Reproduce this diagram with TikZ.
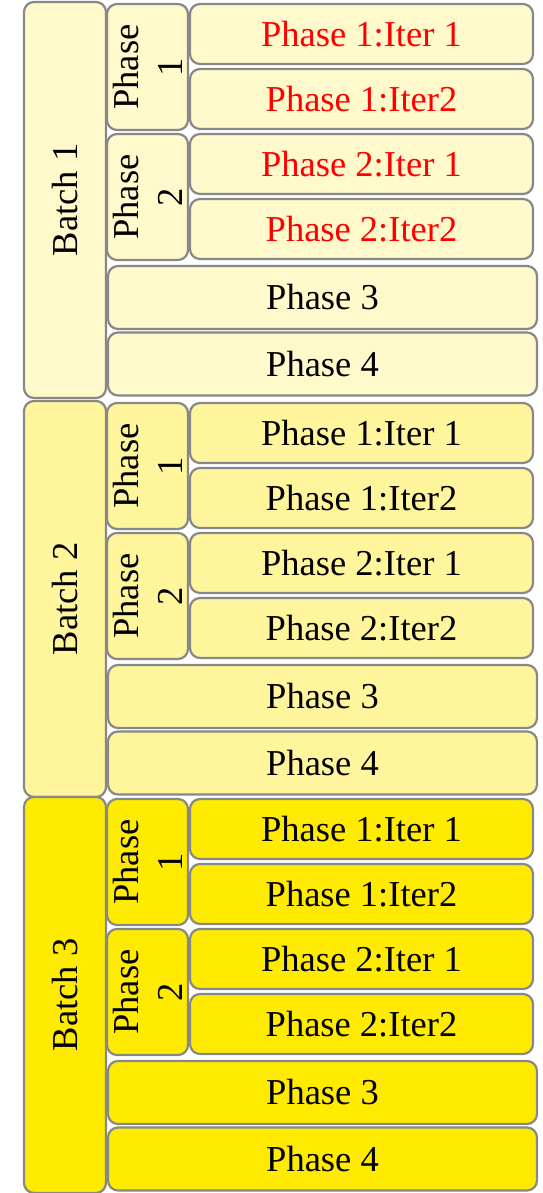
\documentclass[tikz,border=0pt]{standalone}
\usepackage{fontspec}
\setmainfont{Liberation Serif}
\definecolor{lineGray}{HTML}{888888}
\definecolor{batchA}{HTML}{FFF9CC}
\definecolor{batchB}{HTML}{FFF59C}
\definecolor{batchC}{HTML}{FFEB00}

\begin{document}
\begin{tikzpicture}[x=1pt,y=-1pt,
  box/.style = {draw=lineGray, line width=2.2pt, rounded corners=10pt, inner sep=0pt, align=center, font=\fontsize{36.5}{44}\selectfont},
  batch/.style = {box, rotate=90, minimum width=396pt, minimum height=82pt},
  phase/.style = {box, rotate=90, minimum width=126pt, minimum height=81pt},
  iter/.style = {box, minimum width=343pt, minimum height=60pt},
  wide/.style = {box, minimum width=429pt, minimum height=63pt}]
\useasboundingbox (0,0) rectangle (543,1193);
% batch 1
\node[batch, fill=batchA] (b1) at (65,200) {Batch 1};
\node[phase, fill=batchA] (b1p1) at (147.5,67) {Phase\\1};
\node[iter, fill=batchA, text=red] (b1i11) at (361.5,34) {Phase 1:Iter 1};
\node[iter, fill=batchA, text=red] (b1i12) at (361.5,99) {Phase 1:Iter2};
\node[phase, fill=batchA] (b1p2) at (147.5,197) {Phase\\2};
\node[iter, fill=batchA, text=red] (b1i21) at (361.5,164) {Phase 2:Iter 1};
\node[iter, fill=batchA, text=red] (b1i22) at (361.5,229) {Phase 2:Iter2};
\node[wide, fill=batchA] (b1p3) at (322.5,297.5) {Phase 3};
\node[wide, fill=batchA] (b1p4) at (322.5,364) {Phase 4};
% batch 2
\node[batch, fill=batchB] (b2) at (65,599) {Batch 2};
\node[phase, fill=batchB] (b2p1) at (147.5,466) {Phase\\1};
\node[iter, fill=batchB] (b2i11) at (361.5,433) {Phase 1:Iter 1};
\node[iter, fill=batchB] (b2i12) at (361.5,498) {Phase 1:Iter2};
\node[phase, fill=batchB] (b2p2) at (147.5,596) {Phase\\2};
\node[iter, fill=batchB] (b2i21) at (361.5,563) {Phase 2:Iter 1};
\node[iter, fill=batchB] (b2i22) at (361.5,628) {Phase 2:Iter2};
\node[wide, fill=batchB] (b2p3) at (322.5,696.5) {Phase 3};
\node[wide, fill=batchB] (b2p4) at (322.5,763) {Phase 4};
% batch 3
\node[batch, fill=batchC] (b3) at (65,995) {Batch 3};
\node[phase, fill=batchC] (b3p1) at (147.5,862) {Phase\\1};
\node[iter, fill=batchC] (b3i11) at (361.5,829) {Phase 1:Iter 1};
\node[iter, fill=batchC] (b3i12) at (361.5,894) {Phase 1:Iter2};
\node[phase, fill=batchC] (b3p2) at (147.5,992) {Phase\\2};
\node[iter, fill=batchC] (b3i21) at (361.5,959) {Phase 2:Iter 1};
\node[iter, fill=batchC] (b3i22) at (361.5,1024) {Phase 2:Iter2};
\node[wide, fill=batchC] (b3p3) at (322.5,1092.5) {Phase 3};
\node[wide, fill=batchC] (b3p4) at (322.5,1159) {Phase 4};
\end{tikzpicture}
\end{document}
